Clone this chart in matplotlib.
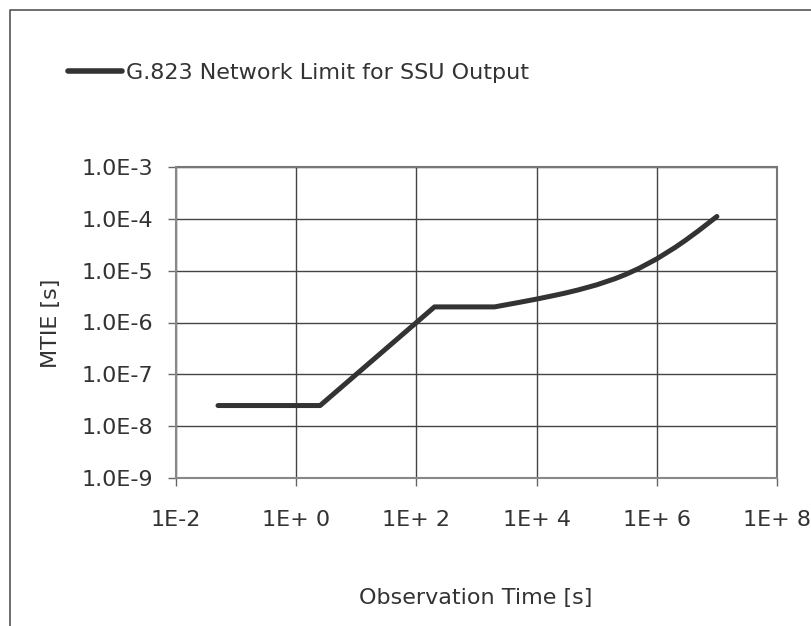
import matplotlib
matplotlib.use("Agg")
import matplotlib.pyplot as plt
from matplotlib.lines import Line2D
from matplotlib.ticker import FixedLocator, NullLocator

# Data
tau = [0.05, 2.5, 200, 2000, 3e3, 5e3, 1e4, 2e4, 3e4, 5e4, 1e5, 2e5, 3e5, 5e5,
       1e6, 2e6, 3e6, 5e6, 1e7]
mtie = [2.5e-8, 2.5e-8, 2.0e-6, 2.0e-6, 2.18e-6, 2.43e-6, 2.83e-6, 3.34e-6, 3.70e-6,
        4.27e-6, 5.33e-6, 6.98e-6, 8.40e-6, 1.10e-5, 1.69e-5, 2.79e-5, 3.85e-5,
        5.95e-5, 1.11e-4]
series_name = "G.823 Network Limit for SSU Output"
x_ticks = [1e-2, 1e0, 1e2, 1e4, 1e6, 1e8]
x_labels = ["1E-2", "1E+ 0", "1E+ 2", "1E+ 4", "1E+ 6", "1E+ 8"]
y_ticks = [1e-9, 1e-8, 1e-7, 1e-6, 1e-5, 1e-4, 1e-3]
y_labels = ["1.0E-9", "1.0E-8", "1.0E-7", "1.0E-6", "1.0E-5", "1.0E-4", "1.0E-3"]

plt.rcParams['font.family'] = ['DejaVu Sans']
FS = 16
W, H = 811, 626
fig = plt.figure(figsize=(W / 100, H / 100), dpi=100)
ax = fig.add_axes([176 / W, 1 - 478 / H, (777 - 176) / W, (478 - 167) / H])

txt = '#333333'
ax.plot(tau, mtie, color='#333333', lw=3.6, solid_capstyle='round',
        solid_joinstyle='round', label=series_name, zorder=3)
ax.set_xscale('log')
ax.set_yscale('log')
ax.set_xlim(1e-2, 1e8)
ax.set_ylim(1e-9, 1e-3)
ax.xaxis.set_major_locator(FixedLocator(x_ticks))
ax.yaxis.set_major_locator(FixedLocator(y_ticks))
ax.xaxis.set_minor_locator(NullLocator())
ax.yaxis.set_minor_locator(NullLocator())
ax.set_xticklabels(x_labels)
ax.set_yticklabels(y_labels)
ax.grid(True, color='#444444', lw=1.0)
for s in ['top', 'right']:
    ax.spines[s].set_visible(False)
for s in ['left', 'bottom']:
    ax.spines[s].set_color('#888888')
    ax.spines[s].set_linewidth(1.5)
ax.tick_params(axis='both', direction='out', length=6, width=1, color='#666666',
               labelsize=FS, labelcolor=txt)
ax.tick_params(axis='x', pad=17)
ax.tick_params(axis='y', pad=10.5)
# top and right gridlines in lighter grey (plot area edges)
ax.axhline(1e-3, color='#777777', lw=1.5, clip_on=False)
ax.axvline(1e8, color='#777777', lw=1.5, clip_on=False)

fig.text(476 / W, 1 - 598 / H, "Observation Time [s]", fontsize=FS, color=txt,
         ha='center', va='center')
fig.text(51 / W, 1 - 323 / H, "MTIE [s]", fontsize=FS, color=txt,
         ha='center', va='center', rotation=90)

leg = ax.legend(loc='center left', bbox_to_anchor=(68 / W, 1 - 73 / H),
                bbox_transform=fig.transFigure, frameon=False, fontsize=FS,
                handlelength=2.45, handletextpad=0.17, borderpad=0, borderaxespad=0)
for t in leg.get_texts():
    t.set_color(txt)
for h in leg.get_lines():
    h.set_linewidth(4.0)

# outer chart border (partially visible)
fig.add_artist(Line2D([10 / W, 10 / W, 1.0], [0.0, 1 - 10 / H, 1 - 10 / H],
                      transform=fig.transFigure, color='#555555', lw=1.2))

fig.savefig("out.png", dpi=100)
